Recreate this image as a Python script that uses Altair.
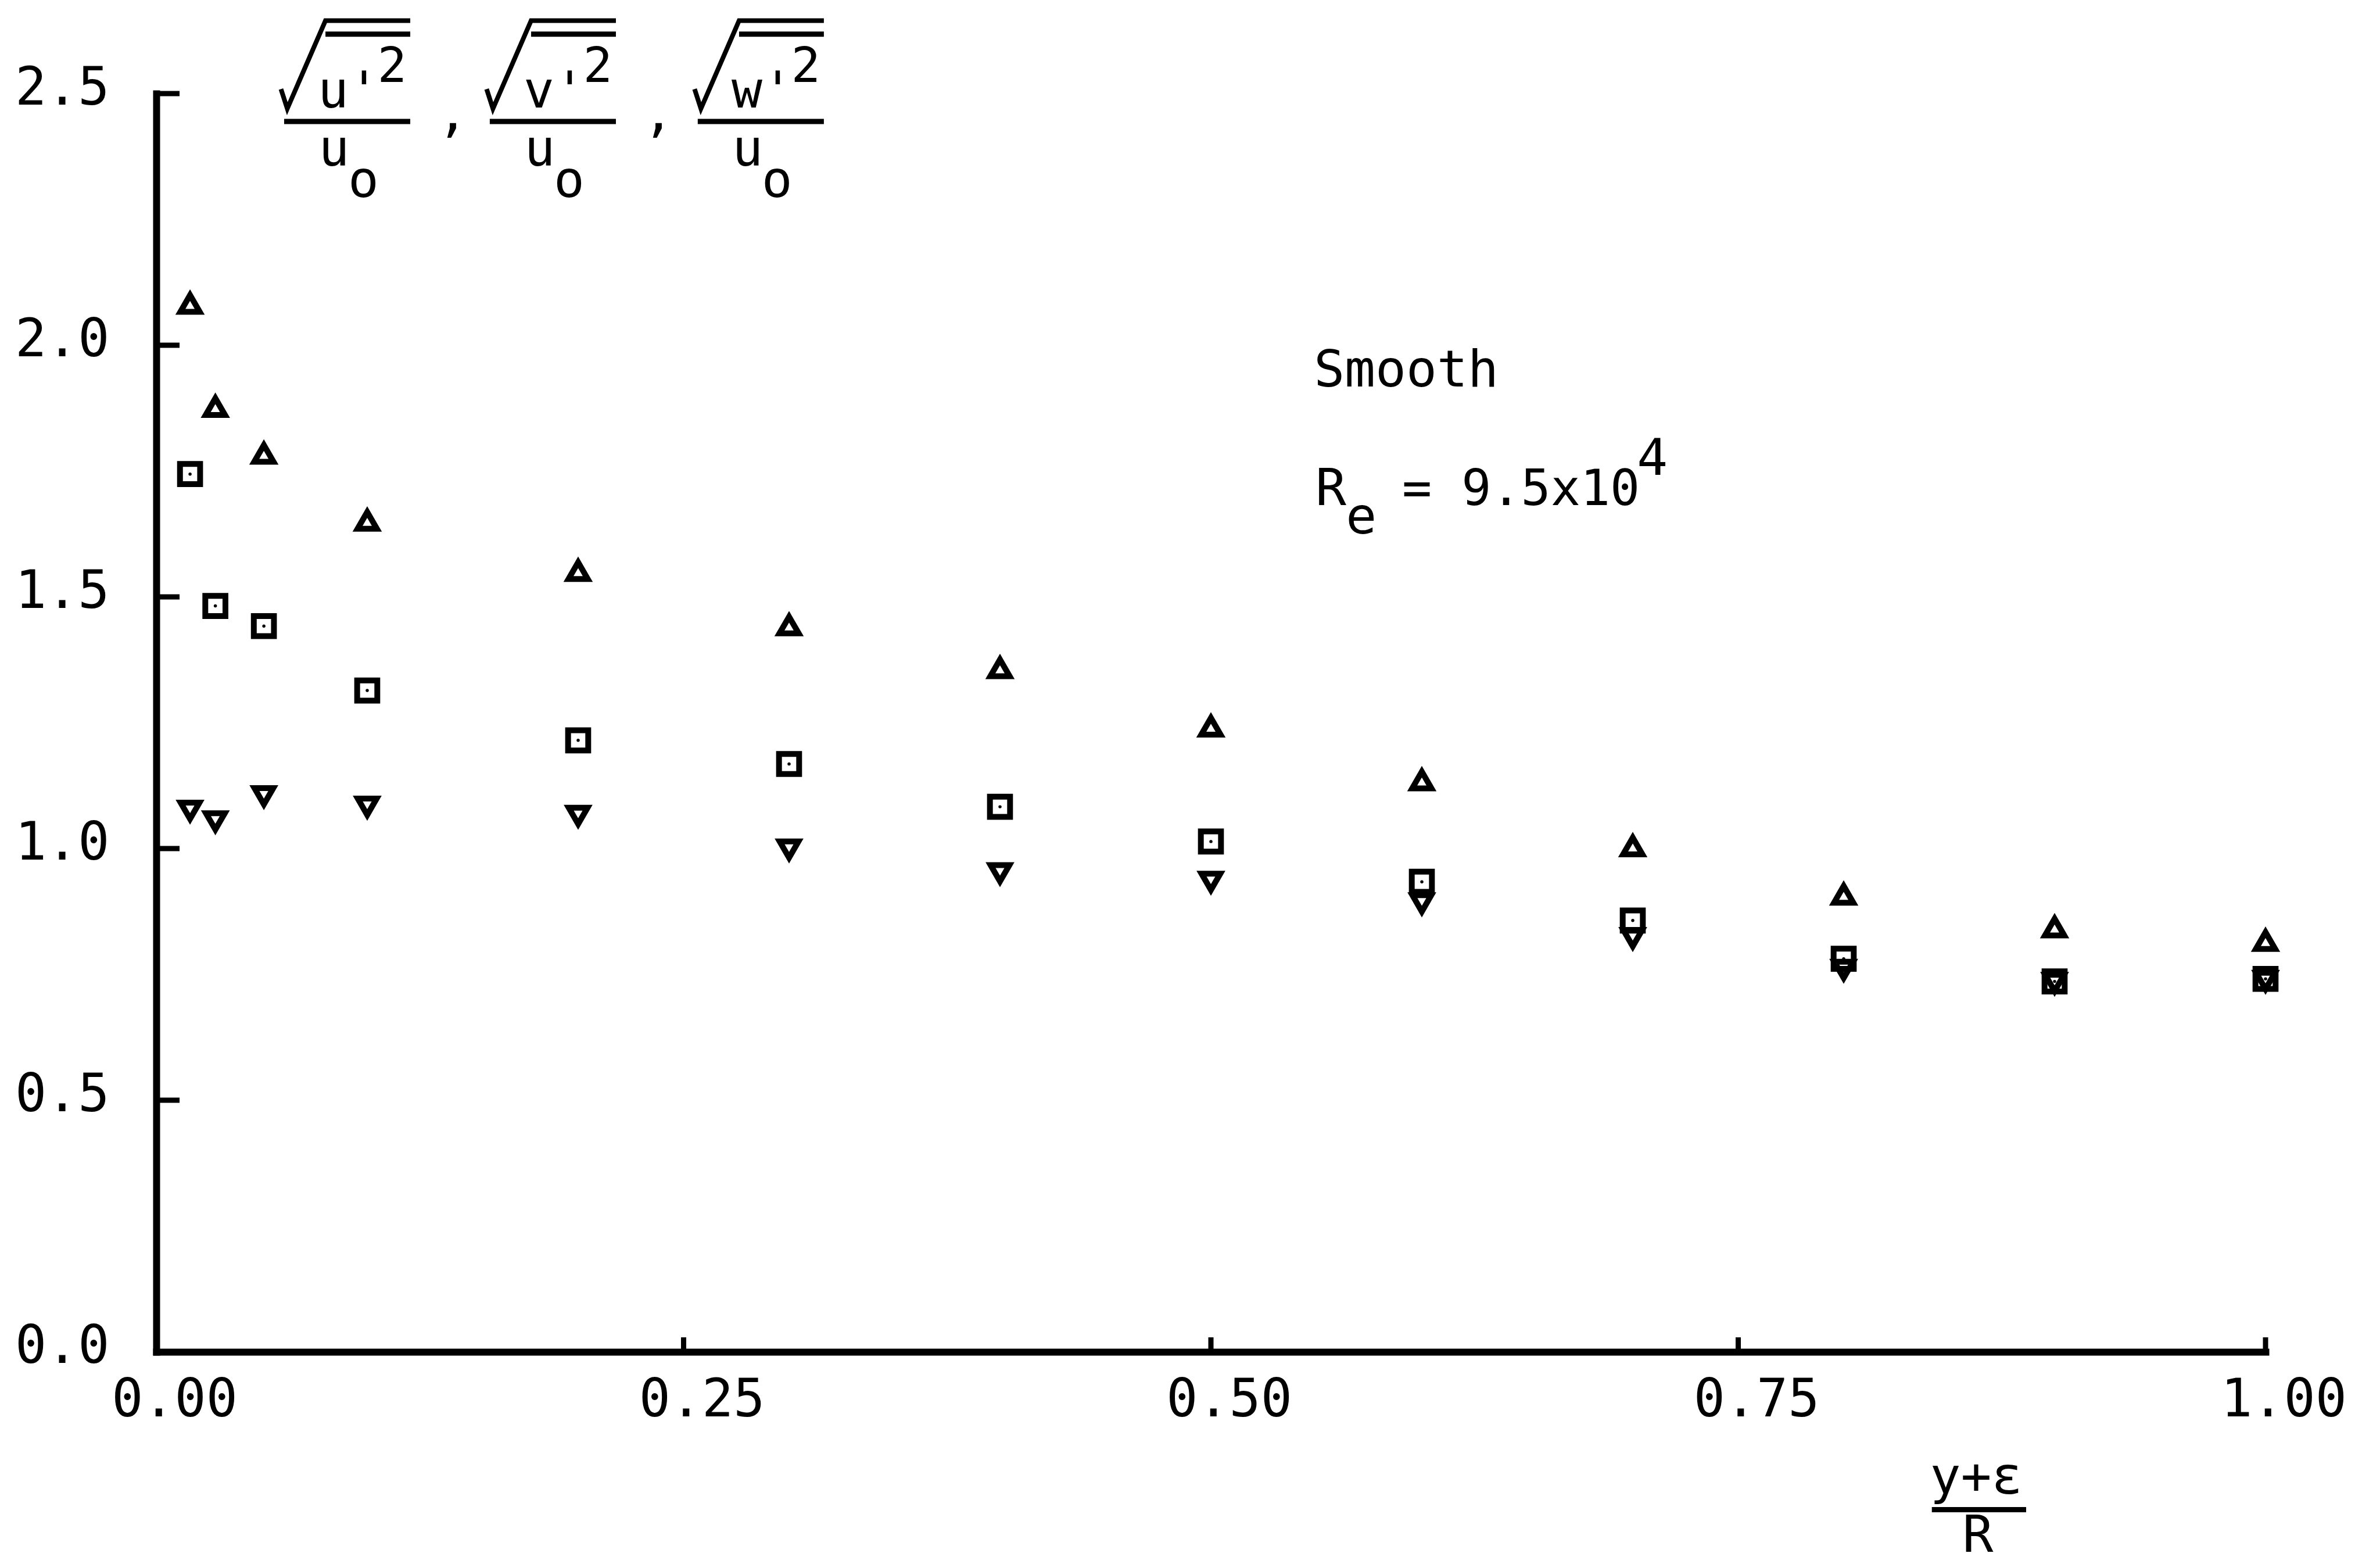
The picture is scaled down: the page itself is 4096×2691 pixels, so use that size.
import altair as alt
import pandas as pd

# ---------------- data ----------------
X_POS = [0.016, 0.028, 0.051, 0.10, 0.20, 0.30, 0.40, 0.50, 0.60, 0.70, 0.80, 0.90, 1.00]
U_RMS = [2.083, 1.878, 1.785, 1.652, 1.552, 1.444, 1.359, 1.243, 1.136, 1.005, 0.909, 0.844, 0.817]
W_RMS = [1.744, 1.482, 1.442, 1.314, 1.215, 1.168, 1.083, 1.014, 0.934, 0.857, 0.781, 0.736, 0.741]
V_RMS = [1.075, 1.054, 1.104, 1.083, 1.065, 0.998, 0.951, 0.934, 0.891, 0.822, 0.759, 0.733, 0.737]
SERIES = ["u'", "w'", "v'"]
SHAPES = ["triangle-up", "square", "triangle-down"]
SIZES = [1100, 1200, 1050]

X_LABELS = [0.0, 0.25, 0.5, 0.75, 1.0]
Y_LABELS = [0.0, 0.5, 1.0, 1.5, 2.0, 2.5]
X_TICKS = [0.25, 0.5, 0.75, 1.0]
Y_TICKS = [0.5, 1.0, 1.5, 2.0, 2.5]

# ---------------- layout / style ----------------
W, H = 3630, 2165
FONT = "DejaVu Sans Mono"
FW = "normal"
FS = 88

XS = alt.Scale(domain=[0, 1], nice=False, zero=False)
YS = alt.Scale(domain=[0, 2.5], nice=False, zero=False)
XAX = alt.Axis(values=X_LABELS, format=".2f", title="", labelPadding=39, labelOffset=31,
               labelFlush=False, labelOverlap=False, labelBaseline="top", labelLimit=0)
YAX = alt.Axis(values=Y_LABELS, format=".1f", title="", labelPadding=81, labelOffset=-9,
               labelOverlap=False, labelLimit=0)


def xenc(field):
    return alt.X(field, type="quantitative", scale=XS, axis=XAX)


def yenc(field):
    return alt.Y(field, type="quantitative", scale=YS, axis=YAX)


layers = []
for name, vals, shape, size in zip(SERIES, [U_RMS, W_RMS, V_RMS], SHAPES, SIZES):
    d = pd.DataFrame({"x": X_POS, "y": vals})
    layers.append(
        alt.Chart(d).mark_point(
            filled=False, color="black", strokeWidth=10, opacity=1, shape=shape, size=size
        ).encode(x=xenc("x"), y=yenc("y"))
    )
    if shape == "square":
        layers.append(
            alt.Chart(d).mark_point(
                shape="circle", filled=True, color="black", size=30, opacity=1
            ).encode(x=xenc("x"), y=yenc("y"))
        )

layers.append(
    alt.Chart(pd.DataFrame({"v": Y_TICKS})).mark_rule(color="black", strokeWidth=9).encode(
        y=yenc("v"), x=alt.value(0), x2=alt.value(40)
    )
)
layers.append(
    alt.Chart(pd.DataFrame({"v": X_TICKS})).mark_rule(color="black", strokeWidth=9).encode(
        x=xenc("v"), y=alt.value(H), y2=alt.value(H - 25)
    )
)

# ---------------- annotation: y-axis label  sqrt(mean(u'^2))/u_o , ... ----------------
FRAC_X = [0.0606, 0.1581, 0.2567]
LETTERS = ["u", "v", "w"]
# radical sign + averaging bar, as offsets from each fraction's left end (data units)
RADICAL_DX = [-0.0015, 0.0015, 0.0196, 0.0598]
RADICAL_Y = [2.509, 2.470, 2.645, 2.645]

left_txt = []
center_txt = []
bars = []
radicals = []
for k, (b, l) in enumerate(zip(FRAC_X, LETTERS)):
    for i, (dx, ry) in enumerate(zip(RADICAL_DX, RADICAL_Y)):
        radicals.append({"x": b + dx, "y": ry, "k": k, "i": i})
    center_txt.append({"x": b + 0.0306, "y": 2.472, "text": l + "'", "fs": FS})
    center_txt.append({"x": b + 0.0512, "y": 2.523, "text": "2", "fs": 84})
    center_txt.append({"x": b + 0.0237, "y": 2.357, "text": "u", "fs": FS})
    center_txt.append({"x": b + 0.0376, "y": 2.295, "text": "o", "fs": FS})
    if k < 2:
        center_txt.append({"x": b + 0.0799, "y": 2.426, "text": ",", "fs": FS})
    bars.append({"x": b, "x2": b + 0.0598, "y": 2.4446})
    bars.append({"x": b + 0.0196, "x2": b + 0.0598, "y": 2.618})

left_txt += [
    {"x": 0.5488, "y": 1.918, "text": "Smooth", "fs": FS},
    {"x": 0.5496, "y": 1.682, "text": "R", "fs": FS},
    {"x": 0.5640, "y": 1.626, "text": "e", "fs": FS},
    {"x": 0.5906, "y": 1.682, "text": "= 9.5x10", "fs": 85},
    {"x": 0.7020, "y": 1.7425, "text": "4", "fs": FS},
]
center_txt += [
    {"x": 0.8628, "y": -0.2818, "text": "y+\u03b5", "fs": FS},
    {"x": 0.8636, "y": -0.3972, "text": "R", "fs": FS},
]
bars.append({"x": 0.8418, "x2": 0.8865, "y": -0.3135})


def text_layer(data, align):
    return alt.Chart(pd.DataFrame(data)).mark_text(
        align=align, baseline="alphabetic", font=FONT, fontWeight=FW, color="black"
    ).encode(
        x=xenc("x"), y=yenc("y"),
        text="text:N",
        size=alt.Size("fs:Q", scale=None),
    )


layers.append(
    alt.Chart(pd.DataFrame(radicals)).mark_line(
        color="black", strokeWidth=8, strokeJoin="miter"
    ).encode(
        x=xenc("x"), y=yenc("y"), detail="k:N", order="i:Q"
    )
)
layers.append(
    alt.Chart(pd.DataFrame(bars)).mark_rule(color="black", strokeWidth=9).encode(
        x=xenc("x"), x2="x2:Q", y=yenc("y")
    )
)
layers.append(text_layer(left_txt, "left"))
layers.append(text_layer(center_txt, "center"))

chart = alt.layer(*layers).properties(
    width=W, height=H,
    autosize=alt.AutoSizeParams(type="none"),
    padding={"left": 269, "top": 161, "right": 197, "bottom": 365},
    background="white",
).configure_view(
    strokeWidth=0
).configure_axis(
    domainColor="black", domainWidth=12, domainCap="square",
    ticks=False, tickSize=0, grid=False,
    labelFont=FONT, labelFontSize=90, labelFontWeight=FW, labelColor="black",
)

chart.save("out.html", embed_options={"renderer": "svg", "actions": False})
